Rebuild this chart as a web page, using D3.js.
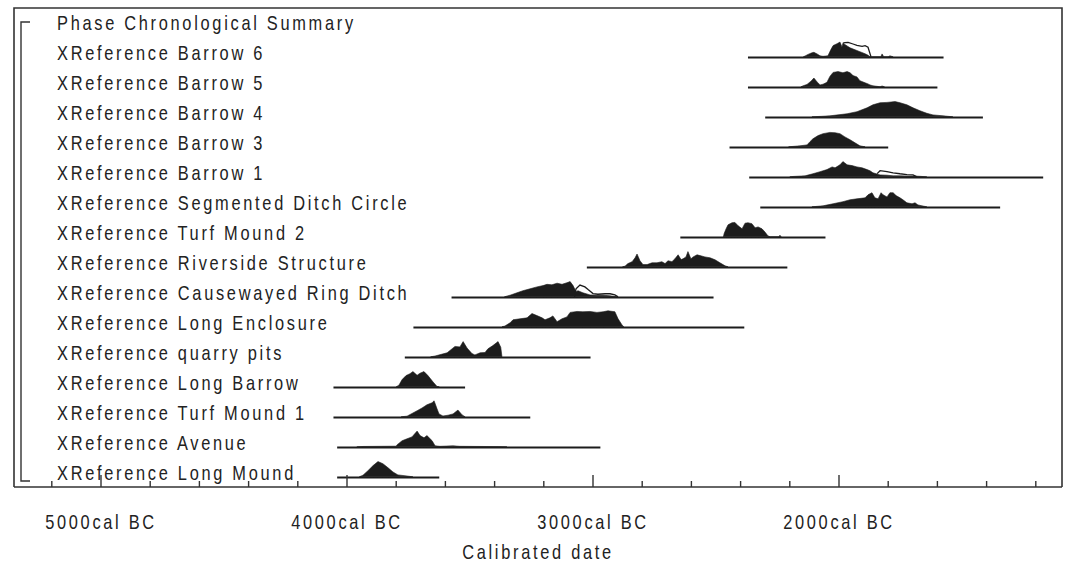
<!DOCTYPE html>
<html><head><meta charset="utf-8">
<script src="https://cdn.jsdelivr.net/npm/d3@7"></script>
<style>
body{margin:0;background:#fff;}
svg text{font-family:"Liberation Sans",Arial,Helvetica,sans-serif;fill:#222;}
</style></head>
<body><svg id="c" width="1065" height="567"></svg>
<script>
// ---- data (years cal BC, relative probability 0..1) ----
const labels = ["Phase Chronological Summary","XReference Barrow 6","XReference Barrow 5","XReference Barrow 4","XReference Barrow 3","XReference Barrow 1","XReference Segmented Ditch Circle","XReference Turf Mound 2","XReference Riverside Structure","XReference Causewayed Ring Ditch","XReference Long Enclosure","XReference quarry pits","XReference Long Barrow","XReference Turf Mound 1","XReference Avenue","XReference Long Mound"];
const ranges = [null,[2370,1575],[2370,1600],[2300,1415],[2445,1800],[2365,1170],[2320,1345],[2645,2055],[3025,2210],[3575,2510],[3730,2385],[3765,3010],[4055,3520],[4055,3255],[4040,2970],[4040,3625]];
const barrow6 = [[2145,0],[2138,0.05],[2126,0.15],[2110,0.25],[2102,0.28],[2089,0.18],[2077,0.06],[2065,0.03],[2045,0.06],[2033,0.45],[2024,0.7],[2008,0.82],[1996,0.92],[1988,0.62],[1984,0.85],[1967,0.68],[1955,0.56],[1935,0.44],[1915,0.32],[1894,0.19],[1882,0.1],[1874,0],[1830,0],[1825,0.18],[1818,0],[1800,0],[1793,0.06],[1780,0]];
const barrow5 = [[2155,0],[2146,0.06],[2130,0.15],[2114,0.35],[2102,0.55],[2089,0.3],[2077,0.12],[2065,0.16],[2049,0.28],[2037,0.65],[2024,0.9],[2004,0.95],[1984,0.88],[1967,0.95],[1955,0.88],[1943,0.7],[1927,0.62],[1915,0.38],[1894,0.25],[1882,0.18],[1874,0.12],[1862,0.06],[1846,0.03],[1833,0],[1825,0.05],[1815,0]];
const barrow4 = [[2110,0],[2070,0.03],[2037,0.06],[1967,0.19],[1927,0.32],[1886,0.56],[1862,0.75],[1833,0.88],[1805,0.9],[1772,0.95],[1752,0.88],[1724,0.75],[1699,0.56],[1671,0.38],[1643,0.22],[1618,0.12],[1577,0.06],[1537,0]];
const barrow3 = [[2205,0],[2159,0.06],[2130,0.12],[2118,0.32],[2106,0.5],[2085,0.7],[2065,0.82],[2037,0.9],[2016,0.88],[1996,0.82],[1976,0.62],[1955,0.44],[1935,0.25],[1915,0.06],[1894,0]];
const barrow1 = [[2200,0],[2187,0.02],[2138,0.06],[2106,0.19],[2077,0.32],[2049,0.45],[2028,0.62],[2016,0.56],[1996,0.75],[1984,0.95],[1967,0.75],[1947,0.7],[1927,0.62],[1906,0.56],[1886,0.45],[1874,0.38],[1862,0.25],[1833,0.12],[1805,0.1],[1780,0.06],[1752,0.06],[1724,0.05],[1699,0.05],[1671,0.03],[1643,0]];
const segmented = [[2110,0],[2065,0.06],[2024,0.19],[1984,0.32],[1955,0.44],[1927,0.5],[1894,0.56],[1882,0.75],[1866,0.88],[1854,0.56],[1841,0.5],[1829,0.88],[1821,0.75],[1805,0.62],[1793,0.88],[1780,0.88],[1768,0.7],[1752,0.56],[1740,0.44],[1724,0.25],[1703,0.19],[1691,0.25],[1679,0.12],[1663,0.06],[1643,0]];
const turf2 = [[2470,0],[2467,0.2],[2459,0.5],[2451,0.75],[2435,0.88],[2423,0.9],[2411,0.7],[2394,0.5],[2382,0.85],[2370,0.88],[2354,0.82],[2341,0.56],[2329,0.62],[2313,0.5],[2301,0.3],[2289,0.06],[2280,0],[2245,0],[2240,0.1],[2235,0]];
const riverside = [[2880,0],[2870,0.04],[2858,0.2],[2841,0.32],[2829,0.56],[2821,0.8],[2809,0.38],[2797,0.14],[2780,0.14],[2760,0.25],[2740,0.25],[2720,0.32],[2707,0.2],[2695,0.38],[2679,0.32],[2667,0.5],[2654,0.75],[2642,0.45],[2634,0.5],[2622,0.62],[2614,0.95],[2602,0.5],[2593,0.62],[2577,0.75],[2565,0.7],[2545,0.62],[2524,0.56],[2504,0.44],[2484,0.25],[2463,0.06],[2451,0]];
const causewayed = [[3360,0],[3337,0.1],[3309,0.25],[3285,0.38],[3256,0.5],[3228,0.62],[3203,0.7],[3187,0.78],[3167,0.75],[3146,0.85],[3126,0.78],[3106,0.88],[3093,0.95],[3081,0.7],[3069,0.32],[3061,0.38],[3041,0.25],[3012,0.12],[2984,0.1],[2959,0.1],[2931,0.06],[2902,0]];
const longEnclosure = [[3370,0],[3358,0.05],[3337,0.25],[3325,0.44],[3297,0.5],[3268,0.56],[3248,0.83],[3228,0.7],[3207,0.56],[3195,0.44],[3175,0.56],[3163,0.68],[3146,0.32],[3126,0.5],[3106,0.62],[3093,0.9],[3065,0.96],[3041,0.94],[3012,0.96],[2984,0.9],[2959,0.94],[2939,1.0],[2911,0.94],[2898,0.5],[2882,0.12],[2875,0]];
const quarry = [[3660,0],[3642,0.05],[3593,0.25],[3561,0.65],[3541,0.62],[3528,0.95],[3512,0.55],[3492,0.2],[3480,0.12],[3459,0.25],[3439,0.27],[3427,0.5],[3407,0.7],[3386,0.95],[3375,0.6],[3370,0]];
const longBarrow = [[3800,0],[3789,0.1],[3776,0.45],[3760,0.7],[3744,0.82],[3732,0.95],[3715,0.72],[3703,0.85],[3687,0.95],[3671,0.7],[3650,0.3],[3634,0.02],[3625,0]];
const turf1 = [[3780,0],[3756,0.04],[3715,0.38],[3695,0.55],[3675,0.75],[3654,0.88],[3646,1],[3634,0.5],[3626,0.18],[3610,0.05],[3589,0.1],[3569,0.18],[3549,0.42],[3532,0.12],[3520,0]];
const avenue = [[3960,0],[3935,0.02],[3800,0.04],[3797,0.12],[3776,0.38],[3756,0.5],[3736,0.62],[3715,0.98],[3703,0.7],[3687,0.56],[3675,0.7],[3654,0.38],[3642,0.06],[3622,0.03],[3569,0.06],[3541,0.03],[3366,0.01],[3350,0]];
const longMound = [[3950,0],[3935,0.1],[3915,0.38],[3894,0.7],[3874,0.95],[3854,0.82],[3833,0.56],[3813,0.3],[3793,0.12],[3756,0.05],[3732,0]];
const densities = [null,barrow6,barrow5,barrow4,barrow3,barrow1,segmented,turf2,riverside,causewayed,longEnclosure,quarry,longBarrow,turf1,avenue,longMound];
// unmodelled outlines (where visible above the modelled distribution)
const outlines = {
  1: [[1984,0.85],[1976,0.88],[1963,0.9],[1943,0.8],[1927,0.72],[1906,0.65],[1894,0.7],[1882,0.6],[1874,0.2],[1870,0]],
  5: [[1845,0.2],[1833,0.38],[1805,0.32],[1780,0.25],[1752,0.19],[1724,0.14],[1699,0.12],[1683,0]],
  9: [[3075,0],[3069,0.5],[3053,0.73],[3033,0.62],[3020,0.45],[3000,0.2],[2980,0.16],[2951,0.19],[2931,0.19],[2911,0.12],[2898,0]]
};
const majorTicks = [5000,4000,3000,2000];
const minorTicks = [5200,4800,4600,4400,4200,3800,3600,3400,3200,2800,2600,2400,2200,1800,1600,1400,1200];
const axisTitle = "Calibrated date";

// ---- drawing ----
const svg = d3.select("#c");
const frame = {l:14, t:8, r:1062, b:487};
const x = d3.scaleLinear().domain([5000,2000]).range([101,839]);
const row = d3.scaleLinear().domain([0,15]).range([30,480]); // text baselines
const h = d3.scaleLinear().domain([0,1]).range([0,16]);
const ink = "#1c1c1c";
const SX = 0.82, LS = 3.3; // condensed look

function condText(sel){
  sel.attr("font-size",20).attr("letter-spacing",LS);
}

// frame
svg.append("path")
  .attr("d",`M${frame.l},${frame.b}V${frame.t}H${frame.r}V${frame.b}`)
  .attr("fill","none").attr("stroke","#333").attr("stroke-width",1.6);
// bracket
svg.append("path")
  .attr("d",`M30,${row(0)-8}H21V${row(15)+1}H30`)
  .attr("fill","none").attr("stroke","#333").attr("stroke-width",1.4);

// labels
svg.selectAll("text.lab").data(labels).join("text")
  .attr("class","lab")
  .attr("transform",(d,i)=>`translate(57,${row(i)}) scale(${SX},1)`)
  .call(condText)
  .text(d=>d);

// range lines
const rowsIdx = d3.range(1,16);
svg.selectAll("line.rng").data(rowsIdx).join("line")
  .attr("class","rng")
  .attr("x1",i=>x(ranges[i][0])).attr("x2",i=>x(ranges[i][1]))
  .attr("y1",i=>row(i)-2.5).attr("y2",i=>row(i)-2.5)
  .attr("stroke",ink).attr("stroke-width",2);

// distributions
rowsIdx.forEach(i=>{
  const base = row(i)-3.2;
  const area = d3.area().x(d=>x(d[0])).y0(base).y1(d=>base-h(d[1])).curve(d3.curveLinear);
  svg.append("path").datum(densities[i]).attr("d",area).attr("fill",ink).attr("stroke",ink).attr("stroke-width",0.6);
  if(outlines[i]){
    const ln = d3.line().x(d=>x(d[0])).y(d=>base-h(d[1]));
    svg.append("path").datum(outlines[i]).attr("d",ln).attr("fill","none").attr("stroke",ink).attr("stroke-width",1.3);
  }
});

// axis
svg.append("line").attr("x1",frame.l).attr("x2",frame.r).attr("y1",frame.b).attr("y2",frame.b)
  .attr("stroke","#333").attr("stroke-width",1.6);
svg.selectAll("line.maj").data(majorTicks).join("line").attr("class","maj")
  .attr("x1",d=>x(d)).attr("x2",d=>x(d)).attr("y1",frame.b).attr("y2",frame.b-12)
  .attr("stroke","#333").attr("stroke-width",1.4);
svg.selectAll("line.min").data(minorTicks).join("line").attr("class","min")
  .attr("x1",d=>x(d)).attr("x2",d=>x(d)).attr("y1",frame.b).attr("y2",frame.b-6)
  .attr("stroke","#333").attr("stroke-width",1.4);
svg.selectAll("text.tl").data(majorTicks).join("text").attr("class","tl")
  .attr("transform",d=>`translate(${x(d)},529) scale(${SX},1)`)
  .attr("text-anchor","middle")
  .call(condText)
  .text(d=>d+"cal BC");
svg.append("text")
  .attr("transform",`translate(${(frame.l+frame.r)/2},559) scale(${SX},1)`)
  .attr("text-anchor","middle")
  .call(condText).text(axisTitle);
</script></body></html>
